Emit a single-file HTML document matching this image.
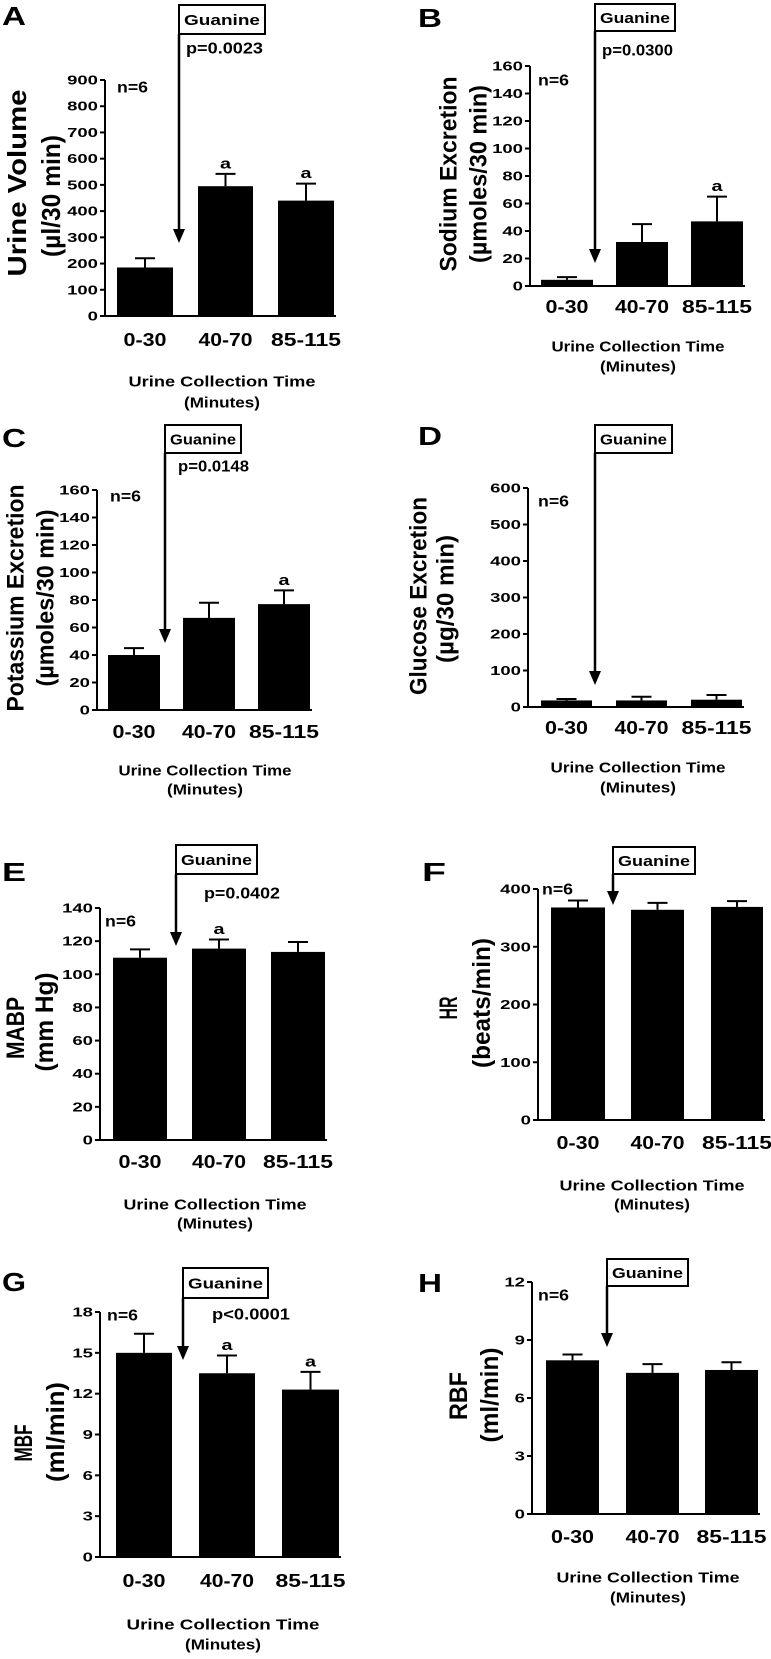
<!DOCTYPE html>
<html><head><meta charset="utf-8"><style>
html,body{margin:0;padding:0;background:#fff;}
svg{display:block;font-family:"Liberation Sans",Arial,sans-serif;font-weight:bold;}
</style></head><body>
<svg id="fig" width="771" height="1659" viewBox="0 0 771 1659"></svg>
<script>
const categories = ["0-30","40-70","85-115"];
const valsA = [185, 495, 440];   const errA = [220, 542, 505];
const valsB = [4.5, 32, 47];     const errB = [6.5, 45, 65];
const valsC = [40, 67, 77];      const errC = [45, 78, 87];
const valsD = [18, 18, 20];      const errD = [22, 28, 33];
const valsE = [110, 115.5, 113.5]; const errE = [115, 121, 119.5];
const valsF = [368, 364, 369];   const errF = [380, 376, 379];
const valsG = [15, 13.5, 12.3];  const errG = [16.4, 14.8, 13.6];
const valsH = [7.95, 7.3, 7.45];  const errH = [8.25, 7.75, 7.85];
const ticksA = [0,100,200,300,400,500,600,700,800,900];
const ticksB = [0,20,40,60,80,100,120,140,160];
const ticksC = [0,20,40,60,80,100,120,140,160];
const ticksD = [0,100,200,300,400,500,600];
const ticksE = [0,20,40,60,80,100,120,140];
const ticksF = [0,100,200,300,400];
const ticksG = [0,3,6,9,12,15,18];
const ticksH = [0,3,6,9,12];
const sigA = [false,true,true];
const sigB = [false,false,true];
const sigC = [false,false,true];
const sigD = [false,false,false];
const sigE = [false,true,false];
const sigF = [false,false,false];
const sigG = [false,true,true];
const sigH = [false,false,false];
const pA="p=0.0023", pB="p=0.0300", pC="p=0.0148", pE="p=0.0402", pG="p<0.0001";

const NS="http://www.w3.org/2000/svg";
const svg=document.getElementById('fig');
function mk(tag,attrs,parent,text){const e=document.createElementNS(NS,tag);for(const k in attrs)e.setAttribute(k,attrs[k]);if(text!==undefined)e.textContent=text;(parent||svg).appendChild(e);return e;}

const panels=[
 {id:'a',L:'A',lx:2,ly:16,ax:105,y0:316,yt:80,bars:[[117,173],[198,253],[278,334]],vals:valsA,errs:errA,ticks:ticksA,sig:sigA,
  box:[179,5,265,34],tip:243,p:pA,px:186,py:49,pw:77,nx:117,ny:88,xly:340,
  yt1:"Urine Volume",yt2:"(\u00b5l/30 min)",t1:[17,183,187],t2:[51,196,122],xt:[222,382,187],mt:403,fs:26},
 {id:'b',L:'B',lx:418,ly:18,ax:530,y0:286,yt:66,bars:[[541,593],[616,668],[691,743]],vals:valsB,errs:errB,ticks:ticksB,sig:sigB,
  box:[595,4,675,31],tip:263,p:pB,px:602,py:51,pw:71,nx:538,ny:81,xly:307,
  yt1:"Sodium Excretion",yt2:"(\u00b5moles/30 min)",t1:[449,174,195],t2:[479,174,178],xt:[638,347,173],mt:367,fs:24},
 {id:'c',L:'C',lx:2,ly:438,ax:97,y0:710,yt:490,bars:[[108,160],[183,235],[258,310]],vals:valsC,errs:errC,ticks:ticksC,sig:sigC,
  box:[165,425,241,453],tip:643,p:pC,px:178,py:467,pw:71,nx:110,ny:497,xly:732,
  yt1:"Potassium Excretion",yt2:"(\u00b5moles/30 min)",t1:[16,598,227],t2:[46,598,177],xt:[205,771,173],mt:790,fs:24},
 {id:'d',L:'D',lx:418,ly:436,ax:528,y0:707,yt:488,bars:[[541,592],[616,667],[691,742]],vals:valsD,errs:errD,ticks:ticksD,sig:sigD,
  box:[595,425,672,453],tip:685,p:null,nx:538,ny:502,xly:728,
  yt1:"Glucose Excretion",yt2:"(\u00b5g/30 min)",t1:[419,596,198],t2:[446,599,128],xt:[638,768,175],mt:788,fs:24},
 {id:'e',L:'E',lx:2,ly:872,ax:100,y0:1140,yt:908,bars:[[113,167],[192,246],[271,325]],vals:valsE,errs:errE,ticks:ticksE,sig:sigE,
  box:[176,845,257,874],tip:946,p:pE,px:204,py:894,pw:76,nx:105,ny:922,xly:1162,
  yt1:"MABP",yt2:"(mm Hg)",t1:[16,1028,62],t2:[45,1022,99],xt:[215,1205,183],mt:1224,fs:25},
 {id:'f',L:'F',lx:422,ly:872,ax:538,y0:1120,yt:889,bars:[[551,605],[631,684],[711,763]],vals:valsF,errs:errF,ticks:ticksF,sig:sigF,
  box:[613,847,695,874],tip:905,p:null,nx:542,ny:890,xly:1143,
  yt1:"HR",yt2:"(beats/min)",t1:[449,1008,23],t2:[482,1003,130],xt:[652,1186,185],mt:1205,fs:25},
 {id:'g',L:'G',lx:2,ly:1282,ax:100,y0:1557,yt:1312,bars:[[116,172],[199,255],[282,339]],vals:valsG,errs:errG,ticks:ticksG,sig:sigG,
  box:[183,1268,268,1298],tip:1360,p:pG,px:212,py:1315,pw:78,nx:107,ny:1316,xly:1581,
  yt1:"MBF",yt2:"(ml/min)",t1:[24,1443,37],t2:[56,1432,100],xt:[223,1625,193],mt:1645,fs:25},
 {id:'h',L:'H',lx:418,ly:1283,ax:532,y0:1514,yt:1282,bars:[[546,599],[626,679],[705,758]],vals:valsH,errs:errH,ticks:ticksH,sig:sigH,
  box:[607,1259,688,1286],tip:1347,p:null,nx:538,ny:1296,xly:1537,
  yt1:"RBF",yt2:"(ml/min)",t1:[459,1396,48],t2:[490,1395,95],xt:[648,1578,183],mt:1598,fs:25}
];
const xlW=[43,54,70];

panels.forEach(P=>{
  const g=mk('g',{});
  
  
  const tmax=P.ticks[P.ticks.length-1];
  const yS=v=>P.y0-(v/tmax)*(P.y0-P.yt);
  const pl=mk('text',{x:P.lx,y:P.ly,'font-size':26,'dominant-baseline':'central',textLength:24,lengthAdjust:'spacingAndGlyphs'},g,P.L);
  
  
  P.vals.forEach((v,i)=>{
    const [x1,x2]=P.bars[i];const cx=(x1+x2)/2;
    const ey=yS(P.errs[i]);
    const el=mk('line',{x1:cx,x2:cx,y1:yS(v),y2:ey,stroke:'#000','stroke-width':2},g);
    
    
    const cap=mk('line',{x1:cx-10,x2:cx+10,y1:ey,y2:ey,stroke:'#000','stroke-width':2},g);
    
    
    const r=mk('rect',{x:x1,y:yS(v),width:x2-x1,height:P.y0-yS(v),fill:'#000'},g);
    
    
    if(P.sig[i]){
      const a=mk('text',{x:cx,y:ey-10,'font-size':15,'text-anchor':'middle','dominant-baseline':'central',textLength:11,lengthAdjust:'spacingAndGlyphs'},g,'a');
      
      
    }
    const xl=mk('text',{x:cx,y:P.xly,'font-size':18,'text-anchor':'middle','dominant-baseline':'central',textLength:xlW[i],lengthAdjust:'spacingAndGlyphs'},g,categories[i]);
    
    
  });
  const ya=mk('line',{x1:P.ax,x2:P.ax,y1:P.y0+1,y2:P.yt,stroke:'#000','stroke-width':2},g);
  
  
  const xa=mk('line',{x1:P.ax-5,x2:P.bars[2][1]+2,y1:P.y0,y2:P.y0,stroke:'#000','stroke-width':2},g);
  
  
  P.ticks.forEach(t=>{
    const ty=yS(t);
    const tl=mk('line',{x1:P.ax-5,x2:P.ax,y1:ty,y2:ty,stroke:'#000','stroke-width':2},g);
    
    
    const s=String(t);
    const tt=mk('text',{x:P.ax-7,y:ty,'font-size':13,'text-anchor':'end','dominant-baseline':'central',textLength:s.length*10.3,lengthAdjust:'spacingAndGlyphs'},g,s);
    
    
  });
  const y1=mk('text',{x:0,y:0,'font-size':P.fs,'text-anchor':'middle','dominant-baseline':'central',textLength:P.t1[2],lengthAdjust:'spacingAndGlyphs',transform:`translate(${P.t1[0]},${P.t1[1]}) rotate(-90)`},g,P.yt1);
  
  
  const y2=mk('text',{x:0,y:0,'font-size':P.fs,'text-anchor':'middle','dominant-baseline':'central',textLength:P.t2[2],lengthAdjust:'spacingAndGlyphs',transform:`translate(${P.t2[0]},${P.t2[1]}) rotate(-90)`},g,P.yt2);
  
  
  const xt=mk('text',{x:P.xt[0],y:P.xt[1],'font-size':15,'text-anchor':'middle','dominant-baseline':'central',textLength:P.xt[2],lengthAdjust:'spacingAndGlyphs'},g,'Urine Collection Time');
  
  
  const mt=mk('text',{x:P.xt[0],y:P.mt,'font-size':15,'text-anchor':'middle','dominant-baseline':'central',textLength:76,lengthAdjust:'spacingAndGlyphs'},g,'(Minutes)');
  
  
  const [bx1,by1,bx2,by2]=P.box;
  const bx=mk('rect',{x:bx1,y:by1,width:bx2-bx1,height:by2-by1,fill:'#fff',stroke:'#000','stroke-width':2},g);
  
  
  const gt=mk('text',{x:(bx1+bx2)/2,y:(by1+by2)/2+1,'font-size':15,'text-anchor':'middle','dominant-baseline':'central',textLength:bx2-bx1-10,lengthAdjust:'spacingAndGlyphs'},g,'Guanine');
  
  
  const al=mk('line',{x1:bx1,x2:bx1,y1:by2,y2:P.tip-12,stroke:'#000','stroke-width':2.5},g);
  
  
  const ah=mk('polygon',{points:`${bx1-6},${P.tip-14} ${bx1+6},${P.tip-14} ${bx1},${P.tip}`,fill:'#000'},g);
  
  
  if(P.p){
    const pt=mk('text',{x:P.px,y:P.py,'font-size':16,'dominant-baseline':'central',textLength:P.pw,lengthAdjust:'spacingAndGlyphs'},g,P.p);
    
    
  }
  const nt=mk('text',{x:P.nx,y:P.ny,'font-size':16,'dominant-baseline':'central',textLength:31,lengthAdjust:'spacingAndGlyphs'},g,'n=6');
  
  
});
</script>
</body></html>
